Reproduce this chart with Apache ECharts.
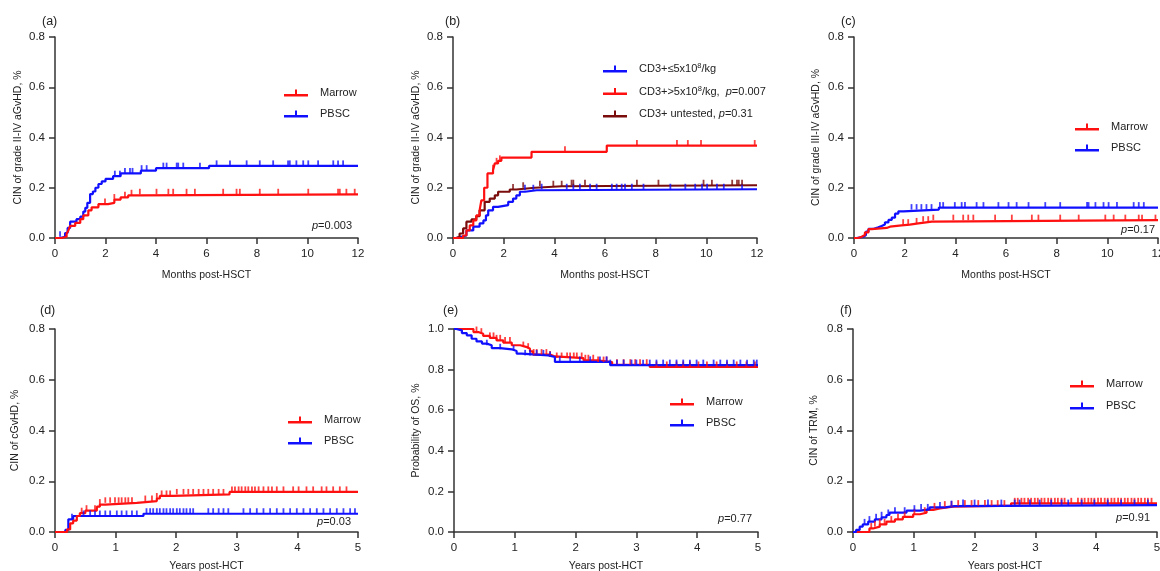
<!DOCTYPE html>
<html><head><meta charset="utf-8">
<script src="https://cdn.jsdelivr.net/npm/echarts@6.0.0/dist/echarts.min.js"></script>
<style>html,body{margin:0;padding:0;background:#fff}#c{width:1160px;height:571px}</style>
</head><body><div id="c"></div>
<script>
// ---------- DATA ----------
// (a) grade II-IV aGvHD, months
const aMarrowT = [0, 0.26, 0.46, 0.53, 0.6, 0.8, 1.0, 1.12, 1.32, 1.45, 1.72, 2.1, 2.35, 2.6, 2.9, 3.3];
const aMarrowY = [0, 0.005, 0.018, 0.03, 0.048, 0.06, 0.075, 0.09, 0.11, 0.122, 0.135, 0.14, 0.153, 0.162, 0.17, 0.174];
const aMarrowC = [1.98, 2.35, 2.77, 3.03, 3.36, 4.02, 4.49, 4.68, 5.21, 5.54, 6.66, 7.19, 7.32, 8.11, 8.84, 10.03, 11.21, 11.28, 11.54, 11.87];
const aPbscT = [0, 0.2, 0.4, 0.5, 0.6, 0.85, 1.0, 1.12, 1.2, 1.28, 1.39, 1.5, 1.6, 1.72, 1.85, 2.0, 2.3, 2.6, 3.4, 4.0, 6.1];
const aPbscY = [0, 0.005, 0.02, 0.04, 0.065, 0.075, 0.085, 0.105, 0.12, 0.14, 0.175, 0.185, 0.2, 0.215, 0.225, 0.235, 0.246, 0.257, 0.268, 0.278, 0.287];
const aPbscC = [0.2, 2.37, 2.57, 2.77, 2.97, 3.07, 3.43, 3.63, 4.29, 4.42, 4.82, 4.88, 5.08, 5.74, 6.4, 6.93, 7.59, 8.11, 8.64, 9.23, 9.3, 9.56, 9.83, 10.03, 10.42, 11.02, 11.21, 11.41];

// (b) by CD3+ dose, months
const bLowT = [0, 0.13, 0.33, 0.53, 0.8, 1.05, 1.2, 1.3, 1.39, 1.58, 1.78, 2.18, 2.37, 2.5, 2.64, 2.84, 3.3];
const bLowY = [0, 0.005, 0.01, 0.03, 0.045, 0.058, 0.07, 0.09, 0.11, 0.124, 0.131, 0.144, 0.157, 0.17, 0.184, 0.19, 0.194];
const bLowC = [2.84, 3.17, 3.5, 4.49, 4.75, 5.01, 5.41, 5.67, 6.27, 6.46, 6.66, 6.79, 7.06, 7.52, 8.58, 9.17, 9.56, 9.83, 10.03, 10.42, 10.69, 11.41];
const bHighT = [0, 0.4, 0.53, 0.66, 0.8, 0.92, 1.05, 1.12, 1.23, 1.36, 1.58, 1.65, 1.78, 1.91, 3.1, 6.07];
const bHighY = [0, 0.01, 0.03, 0.05, 0.07, 0.09, 0.11, 0.15, 0.2, 0.257, 0.27, 0.297, 0.307, 0.32, 0.343, 0.368];
const bHighC = [1.58, 1.72, 1.85, 4.42, 7.26, 8.84, 9.27, 9.79, 11.91];
const bUntT = [0, 0.13, 0.26, 0.4, 0.53, 0.73, 0.92, 1.05, 1.25, 1.45, 1.65, 1.78, 2.24, 2.5, 3.23, 4.3];
const bUntY = [0, 0.005, 0.018, 0.038, 0.065, 0.074, 0.087, 0.11, 0.144, 0.157, 0.17, 0.184, 0.193, 0.2, 0.206, 0.21];
const bUntC = [2.37, 2.77, 3.43, 3.96, 4.29, 4.68, 4.75, 5.21, 7.26, 8.11, 9.89, 10.22, 11.02, 11.21, 11.28, 11.41];

// (c) grade III-IV aGvHD, months
const cMarrowT = [0, 0.17, 0.3, 0.43, 0.57, 0.7, 1.29, 1.42, 1.88, 2.2, 2.54, 3.07];
const cMarrowY = [0, 0.005, 0.012, 0.022, 0.035, 0.04, 0.045, 0.05, 0.053, 0.058, 0.065, 0.071];
const cMarrowC = [1.94, 2.14, 2.47, 2.73, 2.93, 3.13, 3.92, 4.31, 4.51, 4.71, 5.57, 6.23, 7.02, 7.28, 8.14, 8.87, 9.92, 10.25, 10.71, 11.24, 11.37, 11.9];
const cPbscT = [0, 0.1, 0.37, 0.47, 0.57, 0.76, 0.96, 1.09, 1.22, 1.36, 1.49, 1.62, 1.75, 1.95, 3.35];
const cPbscY = [0, 0.005, 0.012, 0.025, 0.036, 0.043, 0.048, 0.054, 0.062, 0.072, 0.081, 0.097, 0.106, 0.113, 0.121];
const cPbscC = [2.27, 2.47, 2.66, 2.86, 3.06, 3.39, 3.52, 3.98, 4.25, 4.38, 4.84, 5.11, 5.7, 6.1, 6.42, 6.89, 7.55, 8.14, 9.2, 9.26, 9.53, 9.85, 10.05, 10.38, 11.04, 11.24, 11.44];

// (d) cGvHD, years
const dMarrowT = [0, 0.2, 0.25, 0.3, 0.36, 0.41, 0.5, 0.69, 0.74, 0.83, 1.35, 1.68, 1.73, 1.95, 2.88];
const dMarrowY = [0, 0.01, 0.034, 0.045, 0.063, 0.074, 0.084, 0.1, 0.108, 0.115, 0.122, 0.132, 0.142, 0.148, 0.158];
const dMarrowC = [0.44, 0.52, 0.66, 0.74, 0.83, 0.91, 0.99, 1.05, 1.1, 1.16, 1.21, 1.27, 1.49, 1.6, 1.68, 1.76, 1.84, 1.9, 2.01, 2.12, 2.2, 2.28, 2.37, 2.45, 2.53, 2.61, 2.7, 2.78, 2.92, 2.97, 3.03, 3.08, 3.14, 3.19, 3.25, 3.3, 3.36, 3.44, 3.52, 3.58, 3.66, 3.77, 3.93, 4.02, 4.15, 4.26, 4.4, 4.48, 4.59, 4.7, 4.81];
const dPbscT = [0, 0.17, 0.22, 0.3, 1.46];
const dPbscY = [0, 0.008, 0.05, 0.063, 0.072];
const dPbscC = [0.28, 0.47, 0.58, 0.66, 0.74, 0.83, 0.91, 1.02, 1.1, 1.18, 1.27, 1.35, 1.51, 1.57, 1.62, 1.68, 1.73, 1.79, 1.84, 1.9, 1.95, 2.01, 2.06, 2.12, 2.17, 2.23, 2.28, 2.53, 2.61, 2.7, 2.78, 2.86, 3.11, 3.22, 3.33, 3.44, 3.55, 3.66, 3.77, 3.88, 3.99, 4.1, 4.21, 4.32, 4.43, 4.54, 4.65, 4.76, 4.87, 4.95];

// (e) OS, years
const eMarrowT = [0, 0.32, 0.4, 0.48, 0.59, 0.7, 0.81, 0.95, 1.09, 1.2, 1.25, 1.3, 1.58, 1.66, 2.13, 2.35, 2.6, 3.22];
const eMarrowY = [1, 0.985, 0.977, 0.966, 0.956, 0.944, 0.933, 0.92, 0.911, 0.903, 0.89, 0.874, 0.865, 0.857, 0.846, 0.837, 0.824, 0.813];
const eMarrowC = [0.37, 0.45, 0.59, 0.65, 0.7, 0.76, 0.84, 0.92, 1.14, 1.22, 1.31, 1.36, 1.44, 1.52, 1.58, 1.69, 1.77, 1.86, 1.91, 1.97, 2.02, 2.1, 2.16, 2.21, 2.29, 2.37, 2.46, 2.51, 2.68, 2.79, 2.9, 2.98, 3.06, 3.17, 3.33, 3.5, 3.66, 3.77, 3.88, 4.02, 4.16, 4.32, 4.49, 4.65, 4.81, 4.95];
const ePbscT = [0, 0.04, 0.13, 0.21, 0.29, 0.37, 0.46, 0.54, 0.62, 0.76, 0.95, 1.03, 1.11, 1.55, 1.66, 2.57];
const ePbscY = [1, 0.993, 0.98, 0.969, 0.952, 0.939, 0.928, 0.92, 0.906, 0.9, 0.892, 0.879, 0.87, 0.862, 0.838, 0.822];
const ePbscC = [0.54, 0.76, 0.98, 1.17, 1.25, 1.36, 1.47, 1.58, 1.74, 1.91, 2.07, 2.24, 2.4, 2.51, 2.57, 2.68, 2.79, 2.92, 3.0, 3.11, 3.22, 3.33, 3.44, 3.55, 3.66, 3.77, 3.88, 3.99, 4.1, 4.27, 4.38, 4.49, 4.6, 4.71, 4.82, 4.93, 4.98];

// (f) TRM, years
const fMarrowT = [0, 0.27, 0.33, 0.44, 0.55, 0.69, 0.82, 0.99, 1.1, 1.21, 1.32, 1.43, 1.64, 2.6];
const fMarrowY = [0, 0.014, 0.021, 0.03, 0.041, 0.05, 0.06, 0.07, 0.076, 0.087, 0.093, 0.1, 0.104, 0.113];
const fMarrowC = [0.3, 0.36, 0.44, 0.52, 0.63, 0.74, 0.85, 1.01, 1.18, 1.34, 1.51, 1.62, 1.73, 1.84, 1.95, 2.06, 2.17, 2.28, 2.38, 2.49, 2.66, 2.71, 2.77, 2.82, 2.88, 2.93, 2.99, 3.04, 3.1, 3.15, 3.21, 3.26, 3.32, 3.37, 3.43, 3.48, 3.59, 3.7, 3.76, 3.81, 3.87, 3.92, 3.97, 4.03, 4.08, 4.14, 4.19, 4.25, 4.3, 4.36, 4.41, 4.47, 4.52, 4.58, 4.63, 4.69, 4.74, 4.8, 4.85, 4.91];
const fPbscT = [0, 0.05, 0.11, 0.16, 0.25, 0.36, 0.47, 0.55, 0.6, 0.88, 1.1, 1.26, 1.51, 1.67];
const fPbscY = [0, 0.008, 0.021, 0.03, 0.041, 0.05, 0.058, 0.067, 0.076, 0.084, 0.089, 0.097, 0.102, 0.106];
const fPbscC = [0.19, 0.27, 0.38, 0.47, 0.58, 0.69, 0.85, 1.01, 1.12, 1.23, 1.43, 1.62, 1.81, 2.0, 2.22, 2.44, 2.66, 2.74, 2.91, 3.07, 3.26, 3.43, 3.54, 3.76, 3.97, 4.19, 4.41, 4.63, 4.85];

// Text
const panelLabels = ['(a)', '(b)', '(c)', '(d)', '(e)', '(f)'];
const yNames = ['CIN of grade II-IV aGvHD, %', 'CIN of grade II-IV aGvHD, %', 'CIN of grade III-IV aGvHD, %', 'CIN of cGvHD, %', 'Probability of OS, %', 'CIN of TRM, %'];
const xNames = ['Months post-HSCT', 'Months post-HSCT', 'Months post-HSCT', 'Years post-HCT', 'Years post-HCT', 'Years post-HCT'];
const xMaxes = [12, 12, 12, 5, 5, 5];
const xSteps = [2, 2, 2, 1, 1, 1];
const yMaxes = [0.8, 0.8, 0.8, 0.8, 1.0, 0.8];
const pValues = ['0.003', null, '0.17', '0.03', '0.77', '0.91'];

// ---------- CHART ----------
const FONT = '"Liberation Sans", Arial, sans-serif';
const RED = '#ff1010', BLUE = '#1010ff', BROWN = '#7a0c0c';
const AX = '#333';
const ICON = 'path://M0,4.5H24V7H0Z M11,0H13V5H11Z';

const grids = [
  {left: 55, top: 37, width: 303, height: 201},
  {left: 453, top: 37, width: 304, height: 201},
  {left: 854, top: 37, width: 304, height: 201},
  {left: 55, top: 329, width: 303, height: 203},
  {left: 454, top: 329, width: 304, height: 203},
  {left: 853, top: 329, width: 304, height: 203}
].map(g => Object.assign(g, {outerBoundsMode: 'none', containLabel: false}));
const yGaps = [31, 31, 32, 34, 32, 33];
const xGaps = [32, 32, 32, 29, 29, 29];

function stepAt(T, Y, t) { let v = Y[0]; for (let i = 0; i < T.length; i++) if (T[i] <= t) v = Y[i]; return v; }

const series = [];
function km(name, gi, T, Y, C, color) {
  const xm = xMaxes[gi];
  const d = T.map((t, i) => [t, Y[i]]);
  d.push([xm, Y[Y.length - 1]]);
  series.push({
    name, type: 'line', step: 'end', xAxisIndex: gi, yAxisIndex: gi, data: d,
    showSymbol: false, symbol: 'none', lineStyle: {color, width: 2.2}, itemStyle: {color},
    animation: false, silent: true, z: 3
  });
  series.push({
    name: name + '_c' + gi, type: 'scatter', xAxisIndex: gi, yAxisIndex: gi,
    data: C.map(c => [c, stepAt(T, Y, c)]),
    symbol: 'rect', symbolSize: [1.8, 5.5], symbolOffset: [0, -2.75],
    itemStyle: {color}, animation: false, silent: true, z: 4
  });
}
km('PBSC', 0, aPbscT, aPbscY, aPbscC, BLUE);
km('Marrow', 0, aMarrowT, aMarrowY, aMarrowC, RED);
km('low', 1, bLowT, bLowY, bLowC, BLUE);
km('unt', 1, bUntT, bUntY, bUntC, BROWN);
km('high', 1, bHighT, bHighY, bHighC, RED);
km('PBSC', 2, cPbscT, cPbscY, cPbscC, BLUE);
km('Marrow', 2, cMarrowT, cMarrowY, cMarrowC, RED);
km('PBSC', 3, dPbscT, dPbscY, dPbscC, BLUE);
km('Marrow', 3, dMarrowT, dMarrowY, dMarrowC, RED);
km('Marrow', 4, eMarrowT, eMarrowY, eMarrowC, RED);
km('PBSC', 4, ePbscT, ePbscY, ePbscC, BLUE);
km('Marrow', 5, fMarrowT, fMarrowY, fMarrowC, RED);
km('PBSC', 5, fPbscT, fPbscY, fPbscC, BLUE);

const xAxis = grids.map((g, i) => ({
  gridIndex: i, type: 'value', min: 0, max: xMaxes[i], interval: xSteps[i],
  name: xNames[i], nameLocation: 'middle', nameGap: xGaps[i],
  nameTextStyle: {fontFamily: FONT, fontSize: 10.5, color: '#222'},
  axisLine: {show: true, onZero: false, lineStyle: {color: AX, width: 1.5}},
  axisTick: {show: true, inside: false, length: 6, lineStyle: {color: AX, width: 1.5}},
  axisLabel: {fontFamily: FONT, fontSize: 11.5, color: '#222', margin: 10},
  splitLine: {show: false}
}));
const yAxis = grids.map((g, i) => ({
  gridIndex: i, type: 'value', min: 0, max: yMaxes[i], interval: 0.2,
  name: yNames[i], nameLocation: 'middle', nameGap: yGaps[i], nameRotate: 90,
  nameTextStyle: {fontFamily: FONT, fontSize: 10.5, color: '#222'},
  axisLine: {show: true, lineStyle: {color: AX, width: 1.5}},
  axisTick: {show: true, inside: false, length: 6, lineStyle: {color: AX, width: 1.5}},
  axisLabel: {fontFamily: FONT, fontSize: 11.5, color: '#222', margin: 10, formatter: v => v.toFixed(1)},
  splitLine: {show: false}
}));

function leg(names, left, top, gap, fmt) {
  const l = {
    data: names.map(n => ({name: n, icon: ICON})), orient: 'vertical', left, top, itemGap: gap,
    itemWidth: 24, itemHeight: 7, padding: 0, selectedMode: false,
    textStyle: {fontFamily: FONT, fontSize: 11, color: '#222', lineHeight: 14, padding: [0, 0, 0, 7]}
  };
  if (fmt) { l.formatter = fmt.f; l.textStyle.rich = fmt.rich; }
  return l;
}
const bLegendText = {
  low: '{t|CD3+≤5x10}{s|8}{t|/kg}',
  high: '{t|CD3+>5x10}{s|8}{t|/kg,  }{i|p}{t|=0.007}',
  unt: '{t|CD3+ untested, }{i|p}{t|=0.31}'
};
const bRich = {
  t: {fontFamily: FONT, fontSize: 11, color: '#222', lineHeight: 14},
  i: {fontFamily: FONT, fontSize: 11, color: '#222', fontStyle: 'italic', lineHeight: 14},
  s: {fontFamily: FONT, fontSize: 7.5, color: '#222', verticalAlign: 'top', lineHeight: 9}
};

const legend = [
  leg(['Marrow', 'PBSC'], 284, 86, 7),
  leg(['low', 'high', 'unt'], 603, 62, 8.5, {f: n => bLegendText[n], rich: bRich}),
  leg(['Marrow', 'PBSC'], 1075, 120, 7),
  leg(['Marrow', 'PBSC'], 288, 413, 7),
  leg(['Marrow', 'PBSC'], 670, 395, 7),
  leg(['Marrow', 'PBSC'], 1070, 377, 8)
];

const labelPos = [[42, 15], [445, 15], [841, 15], [40, 304], [443, 304], [840, 304]];
const pPos = [[808, 220], null, [5, 224], [809, 516], [408, 513], [10, 512]];
const title = [];
panelLabels.forEach((t, i) => title.push({
  text: t, left: labelPos[i][0], top: labelPos[i][1], padding: 0,
  textStyle: {fontFamily: FONT, fontSize: 12.5, fontWeight: 'normal', color: '#222'}
}));
pValues.forEach((p, i) => {
  if (!p) return;
  title.push({
    text: '{i|p}{t|=' + p + '}', right: pPos[i][0], top: pPos[i][1], padding: 0,
    textStyle: {fontFamily: FONT, fontSize: 11, fontWeight: 'normal', color: '#222',
      rich: {i: {fontFamily: FONT, fontSize: 11, fontStyle: 'italic', color: '#222'},
             t: {fontFamily: FONT, fontSize: 11, color: '#222'}}}
  });
});

const chart = echarts.init(document.getElementById('c'), null, {renderer: 'canvas'});
chart.setOption({
  backgroundColor: '#fff', animation: false,
  grid: grids, xAxis, yAxis, series, legend, title
});
</script></body></html>
